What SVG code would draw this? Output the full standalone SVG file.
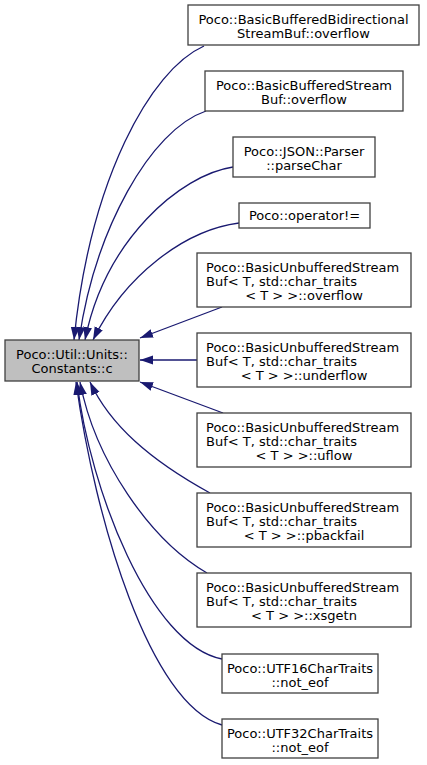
<svg xmlns="http://www.w3.org/2000/svg" width="427" height="765" viewBox="0 0 427 765">
<style>
.n rect{fill:#ffffff;stroke:#404040;stroke-width:1.3}
.main rect{fill:#bfbfbf;stroke:#404040;stroke-width:1.3}
text{font-family:"DejaVu Sans","Liberation Sans",sans-serif;font-size:13px;fill:#000000}
.c{text-anchor:middle}
.s{text-anchor:start}
#edges path{fill:none;stroke:#191970;stroke-width:1.3;marker-end:url(#ah)}
</style>
<defs>
<marker id="ah" markerUnits="userSpaceOnUse" markerWidth="13" markerHeight="10" viewBox="0 0 13 10" refX="13" refY="5" orient="auto">
<path d="M0,0.5 L13,5 L0,9.5 z" fill="#191970"/>
</marker>
</defs>
<rect width="427" height="765" fill="#ffffff"/>
<g id="edges">
<path d="M204,46 C150,70 90,180 74,340"/>
<path d="M206,111 C150,130 95,230 79,340"/>
<path d="M233,167 C180,175 105,240 85,340"/>
<path d="M239,223 C185,230 125,275 93,340"/>
<path d="M222,307 L140,338"/>
<path d="M197,360 L140,360"/>
<path d="M223,413 L140,382"/>
<path d="M210,493 C150,460 110,425 90,382"/>
<path d="M207,573 C150,540 95,460 80,382"/>
<path d="M222,659 C150,645 90,490 77,382"/>
<path d="M222,725 C150,705 95,520 76,382"/>
</g>
<g id="node_main" class="main">
<rect x="5" y="340" width="134" height="41"/>
<text class="c" x="72" y="358.5">Poco::Util::Units::</text>
<text class="c" x="72" y="372.5">Constants::c</text>
</g>
<g id="node1" class="n">
<rect x="188" y="5" width="231" height="40"/>
<text class="c" x="303.5" y="24">Poco::BasicBufferedBidirectional</text>
<text class="c" x="303.5" y="38">StreamBuf::overflow</text>
</g>
<g id="node2" class="n">
<rect x="205" y="71" width="198" height="40"/>
<text class="c" x="304" y="90">Poco::BasicBufferedStream</text>
<text class="c" x="304" y="104">Buf::overflow</text>
</g>
<g id="node3" class="n">
<rect x="233" y="137" width="142" height="40"/>
<text class="c" x="304" y="156">Poco::JSON::Parser</text>
<text class="c" x="304" y="170">::parseChar</text>
</g>
<g id="node4" class="n">
<rect x="239" y="203" width="131" height="25"/>
<text class="c" x="304.5" y="219.5">Poco::operator!=</text>
</g>
<g id="node5" class="n">
<rect x="197" y="253" width="214" height="54"/>
<text class="s" x="206" y="272">Poco::BasicUnbufferedStream</text>
<text class="s" x="206" y="286">Buf&lt; T, std::char_traits</text>
<text class="c" x="304" y="300">&lt; T &gt; &gt;::overflow</text>
</g>
<g id="node6" class="n">
<rect x="197" y="333" width="214" height="54"/>
<text class="s" x="206" y="352">Poco::BasicUnbufferedStream</text>
<text class="s" x="206" y="366">Buf&lt; T, std::char_traits</text>
<text class="c" x="304" y="380">&lt; T &gt; &gt;::underflow</text>
</g>
<g id="node7" class="n">
<rect x="197" y="413" width="214" height="54"/>
<text class="s" x="206" y="432">Poco::BasicUnbufferedStream</text>
<text class="s" x="206" y="446">Buf&lt; T, std::char_traits</text>
<text class="c" x="304" y="460">&lt; T &gt; &gt;::uflow</text>
</g>
<g id="node8" class="n">
<rect x="197" y="493" width="214" height="54"/>
<text class="s" x="206" y="512">Poco::BasicUnbufferedStream</text>
<text class="s" x="206" y="526">Buf&lt; T, std::char_traits</text>
<text class="c" x="304" y="540">&lt; T &gt; &gt;::pbackfail</text>
</g>
<g id="node9" class="n">
<rect x="197" y="573" width="214" height="54"/>
<text class="s" x="206" y="592">Poco::BasicUnbufferedStream</text>
<text class="s" x="206" y="606">Buf&lt; T, std::char_traits</text>
<text class="c" x="304" y="620">&lt; T &gt; &gt;::xsgetn</text>
</g>
<g id="node10" class="n">
<rect x="222" y="654" width="156" height="39"/>
<text class="c" x="300" y="672.5">Poco::UTF16CharTraits</text>
<text class="c" x="300" y="686.5">::not_eof</text>
</g>
<g id="node11" class="n">
<rect x="222" y="719" width="156" height="39"/>
<text class="c" x="300" y="737.5">Poco::UTF32CharTraits</text>
<text class="c" x="300" y="751.5">::not_eof</text>
</g>
</svg>
